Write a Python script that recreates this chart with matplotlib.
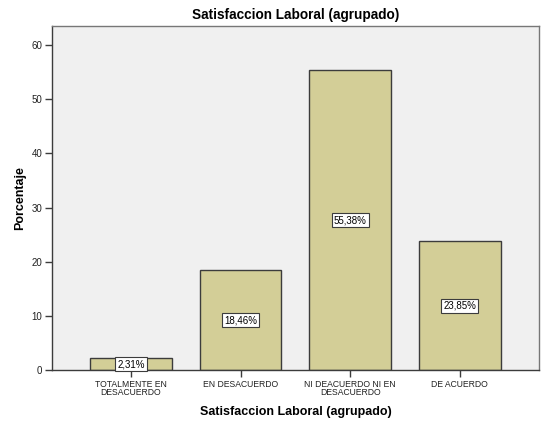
import matplotlib.pyplot as plt
import numpy as np

plt.rcParams['font.family'] = ['Liberation Sans', 'DejaVu Sans']

#
# Data
#

categories = ["TOTALMENTE EN\nDESACUERDO", "EN DESACUERDO", "NI DEACUERDO NI EN\nDESACUERDO", "DE ACUERDO"]
percents = [2.31, 18.46, 55.38, 23.85]
labels = ["2,31%", "18,46%", "55,38%", "23,85%"]

#
# Plot
#

fig = plt.figure(figsize=(5.47, 4.21), dpi=100, facecolor="white")
ax = fig.add_axes([0.095, 0.120, 0.890, 0.818])
ax.set_facecolor("#f0f0f0")

x = np.arange(len(categories))
ax.bar(x, percents, width=0.745, color="#d3ce97", edgecolor="#3c3c3c", linewidth=1, zorder=2)

for xi, val, lab in zip(x, percents, labels):                                      # Value boxes in the middle of bars
    ax.text(xi, val / 2, lab, ha="center", va="center", fontsize=7, color="black", zorder=3,
            bbox=dict(boxstyle="square,pad=0.2", facecolor="white", edgecolor="#3c3c3c", linewidth=0.8))

ax.set_xlim(-0.72, 3.72)
ax.set_ylim(0, 63.4)
ax.set_yticks([0, 10, 20, 30, 40, 50, 60])
ax.set_xticks(x)
ax.set_xticklabels(categories, fontsize=6.2, color="#222222", linespacing=0.85)
ax.tick_params(axis="y", labelsize=7, colors="#222222", length=5, width=1, direction="out", pad=2)
ax.tick_params(axis="x", length=5, width=1, direction="out", color="#3c3c3c", pad=2)
ax.tick_params(axis="y", color="#3c3c3c")

for s in ["left", "bottom"]:
    ax.spines[s].set_color("#3c3c3c")
for s in ["top", "right"]:
    ax.spines[s].set_color("#777777")
[ax.spines[s].set_linewidth(1) for s in ax.spines]

ax.set_title("Satisfaccion Laboral (agrupado)", fontsize=9.8, fontweight="bold", pad=5)
ax.set_xlabel("Satisfaccion Laboral (agrupado)", fontsize=9, fontweight="bold")
ax.set_ylabel("Porcentaje", fontsize=9, fontweight="bold")
ax.xaxis.set_label_coords(0.5, -0.122)
ax.yaxis.set_label_coords(-0.066, 0.5)
ax.xaxis.label.set_va("center")
ax.yaxis.label.set_va("center")

plt.savefig("out.png", dpi=100)
